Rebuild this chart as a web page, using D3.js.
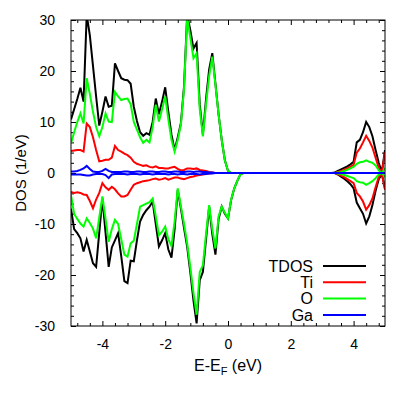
<!DOCTYPE html>
<html>
<head>
<meta charset="utf-8">
<script src="https://cdn.jsdelivr.net/npm/d3@7"></script>
<style>
  body { margin: 0; background: #fff; }
  svg text { font-family: "Liberation Sans", Arial, sans-serif; fill: #000; }
  .axis line { stroke: #000; }
</style>
</head>
<body>
<svg id="dos" width="415" height="396"></svg>
<script>
/* energy grid (eV, relative to E_F); the gap 0.5..3.3 is flat */
var energy = [-5.0, -4.9, -4.8, -4.7, -4.6, -4.5, -4.4, -4.3, -4.2, -4.1,
              -4.0, -3.9, -3.8, -3.7, -3.6, -3.5, -3.4, -3.3, -3.2, -3.1,
              -3.0, -2.9, -2.8, -2.7, -2.6, -2.5, -2.4, -2.3, -2.2, -2.1,
              -2.0, -1.9, -1.8, -1.7, -1.6, -1.5, -1.4, -1.3, -1.2, -1.1,
              -1.0, -0.9, -0.8, -0.7, -0.6, -0.5, -0.4, -0.3, -0.2, -0.1,
               0.0,  0.1,  0.2,  0.3,  0.4,  0.5,
               3.3,  3.4,  3.5,  3.6,  3.7,  3.8,  3.9,  4.0,  4.1,  4.2,
               4.3,  4.4,  4.5,  4.6,  4.7,  4.8,  4.9,  5.0];

/* spin up */
var tdosUp = [10.5, 12.5, 14.5, 16.7, 14.0, 31.0, 27.0, 21.0, 15.0, 9.3,
              12.0, 15.0, 13.0, 13.2, 21.5, 20.0, 18.6, 18.3, 18.2, 17.5,
              13.0, 10.2, 8.0, 7.3, 7.8, 7.5, 10.0, 14.6, 11.5, 14.0,
              16.8, 12.0, 7.5, 4.5, 7.0, 9.8, 17.0, 31.0, 28.0, 24.4,
              25.5, 13.5, 7.5, 14.5, 20.3, 23.5, 17.5, 11.5, 6.5, 2.5,
              0.4, 0, 0, 0, 0, 0,
              0, 0.1, 0.4, 0.7, 1.0, 1.3, 1.7, 2.2, 6.0, 6.5,
              8.0, 10.0, 9.0, 7.2, 4.5, 2.0, 0.2, 4.5];
var tiUp = [4.3, 4.4, 4.5, 4.5, 4.2, 9.7, 9.0, 7.0, 4.5, 2.3,
            2.4, 2.6, 2.6, 3.0, 5.3, 4.5, 4.2, 3.8, 3.5, 3.0,
            2.2, 1.8, 1.6, 1.4, 1.5, 1.2, 1.1, 1.3, 1.0, 1.0,
            0.9, 0.9, 1.1, 1.2, 0.8, 0.5, 0.6, 0.9, 0.9, 0.8,
            0.9, 0.6, 0.5, 0.4, 0.2, 0.1, 0, 0, 0, 0,
            0, 0, 0, 0, 0, 0,
            0, 0, 0.2, 0.4, 0.6, 0.9, 1.2, 1.6, 4.0, 4.8,
            6.0, 7.3, 6.3, 5.0, 3.0, 1.0, 0.1, 4.0];
var oUp = [5.8, 8.0, 10.0, 11.7, 9.7, 18.6, 15.5, 12.0, 9.0, 7.2,
           9.0, 11.7, 10.1, 10.0, 15.9, 15.0, 14.3, 14.5, 14.6, 13.5,
           10.0, 8.5, 7.0, 5.9, 6.5, 6.0, 9.0, 13.4, 10.1, 12.5,
           15.0, 10.5, 6.5, 4.2, 6.5, 9.5, 16.5, 30.5, 26.5, 22.5,
           23.5, 12.5, 7.2, 13.5, 19.0, 22.8, 17.3, 11.5, 6.5, 2.5,
           0.4, 0, 0, 0, 0, 0,
           0, 0, 0.1, 0.2, 0.4, 0.6, 0.9, 1.2, 1.8, 2.1,
           2.2, 2.5, 2.2, 2.0, 1.5, 0.5, 0, 1.0];
var gaUp = [0.3, 0.3, 0.4, 0.6, 0.9, 1.4, 0.8, 0.3, 0.2, 0.2,
            0.4, 0.8, 0.4, 0.2, 0.2, 0.2, 0.2, 0.3, 0.3, 0.2,
            0.2, 0.3, 0.3, 0.2, 0.2, 0.3, 0.3, 0.2, 0.2, 0.3,
            0.3, 0.2, 0.2, 0.3, 0.3, 0.2, 0.2, 0.3, 0.3, 0.2,
            0.3, 0.3, 0.2, 0.2, 0.1, 0.1, 0, 0, 0, 0,
            0, 0, 0, 0, 0, 0,
            0, 0, 0, 0, 0, 0, 0, 0, 0, 0,
            0, 0, 0, 0, 0, 0, 0, 0];

/* spin down */
var tdosDn = [-7.0, -11.0, -11.8, -12.8, -15.4, -13.1, -15.4, -17.7, -18.4, -11.7,
              -5.0, -11.7, -18.4, -14.6, -13.2, -11.8, -16.3, -21.2, -21.6, -17.2,
              -17.3, -13.2, -9.5, -8.2, -7.3, -6.6, -5.6, -10.0, -14.4, -13.2,
              -11.8, -15.0, -16.6, -11.0, -3.3, -7.0, -10.8, -14.5, -19.5, -25.0,
              -29.5, -21.0, -19.4, -13.0, -6.6, -12.0, -16.0, -9.0, -6.6, -8.0,
              -8.9, -5.3, -3.0, -1.5, -0.2, 0,
              0, 0, -0.3, -0.7, -1.1, -1.6, -2.2, -3.0, -5.8, -6.9,
              -8.0, -9.9, -8.5, -6.3, -3.5, -1.2, -0.2, -3.0];
var tiDn = [-3.7, -3.9, -3.8, -3.9, -4.2, -4.3, -5.5, -6.9, -5.2, -3.9,
            -2.0, -2.8, -3.3, -2.7, -3.2, -4.0, -4.6, -4.6, -4.3, -3.3,
            -2.3, -2.0, -1.8, -1.6, -1.5, -1.4, -1.2, -1.1, -1.3, -1.2,
            -1.0, -1.3, -1.1, -0.9, -0.9, -1.1, -1.2, -1.0, -0.8, -0.7,
            -0.5, -0.4, -0.3, -0.2, -0.1, 0, 0, 0, 0, 0,
            0, 0, 0, 0, 0, 0,
            0, 0, -0.2, -0.5, -0.8, -1.2, -1.6, -2.0, -3.9, -4.6,
            -5.6, -7.2, -6.3, -5.0, -2.8, -0.8, -0.1, -3.3];
var oDn = [-4.3, -8.0, -9.0, -9.9, -10.5, -8.9, -9.8, -10.9, -12.8, -8.7,
           -4.6, -9.0, -13.5, -11.0, -9.2, -10.0, -13.0, -16.0, -16.4, -13.8,
           -13.3, -10.0, -6.6, -6.3, -6.0, -5.7, -5.0, -8.5, -12.2, -11.5,
           -10.5, -13.0, -14.3, -9.5, -3.0, -6.5, -10.0, -13.8, -18.5, -23.5,
           -27.8, -19.4, -18.1, -12.0, -6.3, -11.0, -14.8, -8.5, -6.6, -7.8,
           -8.9, -5.2, -3.0, -1.5, -0.2, 0,
           0, 0, -0.1, -0.2, -0.4, -0.6, -0.8, -1.0, -1.6, -1.8,
           -1.9, -2.3, -2.0, -1.6, -1.0, -0.3, 0, -0.8];
var gaDn = [-0.3, -0.3, -0.3, -0.3, -0.4, -0.5, -0.5, -0.3, -0.2, -0.2,
            -0.2, -0.4, -1.0, -0.3, -0.2, -0.2, -0.2, -0.2, -0.3, -0.2,
            -0.2, -0.2, -0.3, -0.2, -0.2, -0.2, -0.3, -0.2, -0.2, -0.2,
            -0.2, -0.3, -0.2, -0.2, -0.3, -0.2, -0.2, -0.3, -0.2, -0.2,
            -0.2, -0.3, -0.2, -0.2, -0.1, -0.1, 0, 0, 0, 0,
            0, 0, 0, 0, 0, 0,
            0, 0, 0, 0, 0, 0, 0, 0, 0, 0,
            0, 0, 0, 0, 0, 0, 0, 0];

var legendNames = ["TDOS", "Ti", "O", "Ga"];
var seriesColors = ["#000000", "#ff0000", "#00ff00", "#0000ff"];
var xTicks = [-4, -2, 0, 2, 4];
var yTicks = [-30, -20, -10, 0, 10, 20, 30];

var svg = d3.select("#dos"),
    margin = {top: 20, right: 30, bottom: 70, left: 71},
    width = +svg.attr("width") - margin.left - margin.right,
    height = +svg.attr("height") - margin.top - margin.bottom,
    g = svg.append("g").attr("transform", "translate(" + margin.left + "," + margin.top + ")");

var x = d3.scaleLinear().domain([-5, 5]).range([0, width]);
var y = d3.scaleLinear().domain([-30, 30]).range([height, 0]);

var xMinor = d3.range(-4.8, 5, 0.4).filter(function(d) { return Math.abs(d / 2 - Math.round(d / 2)) > 0.01; });
var yMinor = y.ticks(30).filter(function(d) { return d % 10 != 0; });
var fmt = function(d) { return String(d); };

// ticks point inward on all four sides
function addAxis(axis, tx, ty) {
    var a = g.append("g")
        .attr("class", "axis")
        .attr("transform", "translate(" + tx + "," + ty + ")")
        .call(axis);
    a.select(".domain").remove();
    a.selectAll("text").style("font-size", "14px");
    return a;
}

addAxis(d3.axisBottom(x).tickValues(xTicks).tickSize(-5).tickPadding(13).tickFormat(fmt), 0, height);
addAxis(d3.axisBottom(x).tickValues(xMinor).tickSize(-3).tickFormat(""), 0, height);
addAxis(d3.axisTop(x).tickValues(xTicks).tickSize(-5).tickFormat(""), 0, 0);
addAxis(d3.axisTop(x).tickValues(xMinor).tickSize(-3).tickFormat(""), 0, 0);
addAxis(d3.axisLeft(y).tickValues(yTicks).tickSize(-5).tickPadding(16).tickFormat(fmt), 0, 0);
addAxis(d3.axisLeft(y).tickValues(yMinor).tickSize(-3).tickFormat(""), 0, 0);
addAxis(d3.axisRight(y).tickValues(yTicks).tickSize(-5).tickFormat(""), width, 0);
addAxis(d3.axisRight(y).tickValues(yMinor).tickSize(-3).tickFormat(""), width, 0);

g.append("defs").append("clipPath")
    .attr("id", "clip")
    .append("rect")
    .attr("width", width)
    .attr("height", height);

var line = d3.line()
    .x(function(d, i) { return x(energy[i]); })
    .y(function(d) { return y(d); });

var curves = [
    [tdosUp, 0], [tdosDn, 0],
    [tiUp, 1], [tiDn, 1],
    [oUp, 2], [oDn, 2],
    [gaUp, 3], [gaDn, 3]
];

var plot = g.append("g").attr("clip-path", "url(#clip)");
curves.forEach(function(c) {
    plot.append("path")
        .datum(c[0])
        .attr("fill", "none")
        .attr("stroke", seriesColors[c[1]])
        .attr("stroke-width", 2)
        .attr("stroke-linejoin", "miter")
        .attr("d", line);
});

// border
g.append("rect")
    .attr("width", width)
    .attr("height", height)
    .attr("fill", "none")
    .attr("stroke", "#000")
    .attr("stroke-width", 1);

// axis titles
var xt = svg.append("text")
    .attr("x", margin.left + width / 2)
    .attr("y", 371)
    .attr("text-anchor", "middle")
    .style("font-size", "16px");
xt.append("tspan").text("E-E");
xt.append("tspan").attr("dy", 4).style("font-size", "11px").text("F");
xt.append("tspan").attr("dy", -4).text(" (eV)");

svg.append("text")
    .attr("transform", "translate(26," + (margin.top + height / 2) + ") rotate(-90)")
    .attr("text-anchor", "middle")
    .style("font-size", "15px")
    .text("DOS (1/eV)");

// legend
var legend = svg.append("g");
legendNames.forEach(function(name, i) {
    var ly = 266 + i * 16.3;
    legend.append("text")
        .attr("x", 313)
        .attr("y", ly)
        .attr("dy", "0.36em")
        .attr("text-anchor", "end")
        .style("font-size", "16px")
        .text(name);
    legend.append("line")
        .attr("x1", 323).attr("x2", 366)
        .attr("y1", ly).attr("y2", ly)
        .attr("stroke", seriesColors[i])
        .attr("stroke-width", 2);
});
</script>
</body>
</html>
